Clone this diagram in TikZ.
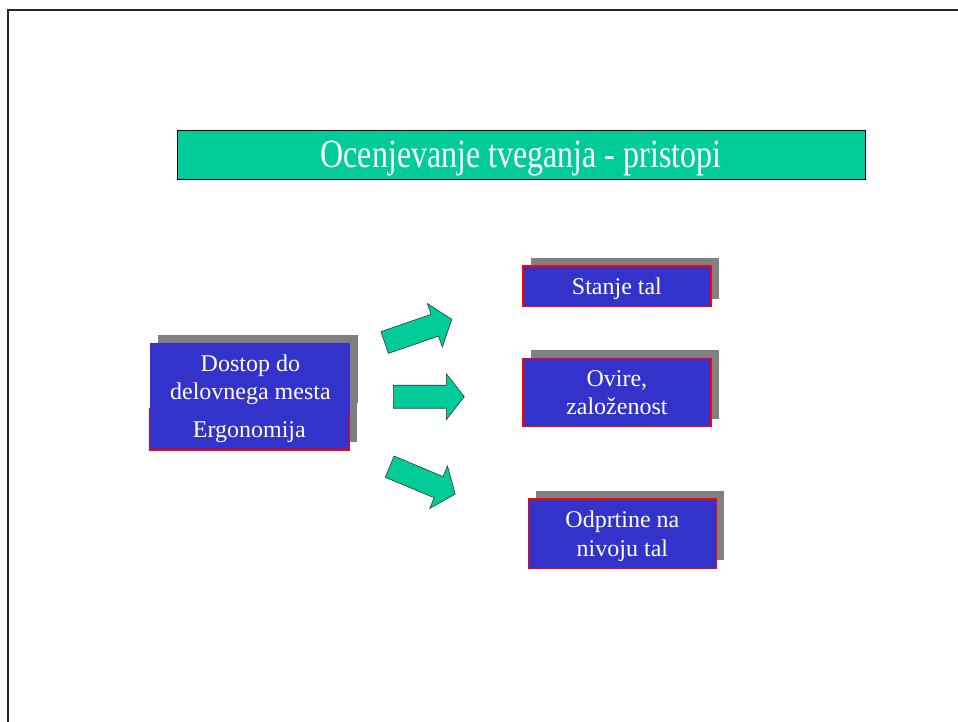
\documentclass[tikz,border=0pt]{standalone}
\usepackage{fontspec}
\setmainfont{Liberation Serif}
\newfontfamily\titlefont[FakeStretch=0.8]{Liberation Serif}
\usepackage{tikz}
\usetikzlibrary{positioning,shadows}
\definecolor{titlegreen}{RGB}{0,204,153}
\definecolor{boxblue}{RGB}{51,51,204}
\definecolor{shadowgray}{RGB}{128,128,128}
\tikzset{
  basic/.style  = {rectangle, inner sep=0pt, align=center, text=white,
                   text depth=0pt, font=\fontsize{24}{28.5}\selectfont},
  title/.style  = {basic, draw=black, line width=0.8pt, fill=titlegreen,
                   minimum width=688pt, minimum height=49pt,
                   font=\titlefont\fontsize{40}{44}\selectfont},
  topic/.style  = {basic, fill=boxblue, minimum width=200pt,
                   drop shadow={shadow xshift=8pt, shadow yshift=8pt,
                   fill=shadowgray, opacity=1}},
  item/.style   = {topic, draw=red, line width=1.2pt, minimum width=188pt},
  arrowfill/.style = {fill=titlegreen, draw=black!80, line width=0.6pt,
                   line join=miter},
  blockarrow/.pic = {\draw[arrowfill] (0,-11.5) -- (53,-11.5) -- (53,-23)
                   -- (71,0) -- (53,23) -- (53,11.5) -- (0,11.5) -- cycle;}
}
\begin{document}
\begin{tikzpicture}[x=1pt, y=-1pt]
    \useasboundingbox (0,0) rectangle (958,722);
    % slide frame
    \draw[line width=2pt, black!85] (7.7,722) -- (7.7,10) -- (958,10);
    \node[title] (head) at (521,154.5) {Ocenjevanje tveganja - pristopi};
    % left side
    \node[topic, draw=red, line width=1.2pt, minimum height=41pt] (ergo) at (249.3,429.5) {Ergonomija};
    \node[topic, minimum height=67.4pt] (dostop) at (250.4,377) {Dostop do\\delovnega mesta};
    % right side
    \node[item, minimum height=40.7pt] (stanje) at (616.9,286.3) {Stanje tal};
    \node[item, minimum height=68.4pt] (ovire) at (616.9,392.5) {Ovire,\\založenost};
    \node[item, minimum height=69.3pt] (odprtine) at (622.4,533.7) {Odprtine na\\nivoju tal};
    % arrows
    \pic[rotate=19] at (384.7,342.5) {blockarrow};
    \pic at (393.3,396.7) {blockarrow};
    \pic[rotate=-22.7] at (389.7,466.7) {blockarrow};
\end{tikzpicture}
\end{document}
